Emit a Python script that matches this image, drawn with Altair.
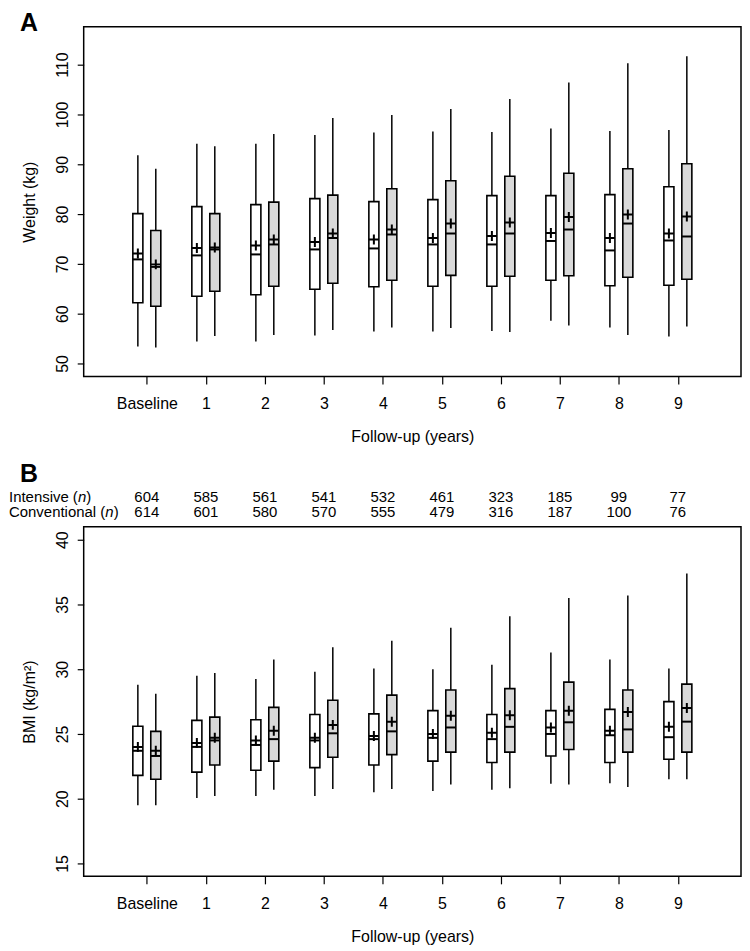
import altair as alt
import pandas as pd

# ---------------- data ----------------
years = ["Baseline", "1", "2", "3", "4", "5", "6", "7", "8", "9"]
groups = ["Intensive", "Conventional"]

int_n = [604, 585, 561, 541, 532, 461, 323, 185, 99, 77]
conv_n = [614, 601, 580, 570, 555, 479, 316, 187, 100, 76]

# Weight (kg) - left (white) boxes
w1_low = [53.4, 54.4, 54.4, 55.6, 56.4, 56.4, 56.5, 58.6, 57.2, 55.4]
w1_q1 = [62.2, 63.5, 63.8, 64.9, 65.4, 65.5, 65.5, 66.7, 65.6, 65.7]
w1_med = [70.9, 71.7, 71.9, 72.9, 73.1, 73.9, 73.9, 74.6, 72.7, 74.7]
w1_mean = [72.1, 73.2, 73.7, 74.4, 74.9, 75.2, 75.6, 76.2, 75.2, 76.1]
w1_q3 = [80.1, 81.5, 81.9, 83.1, 82.5, 82.9, 83.7, 83.7, 83.9, 85.5]
w1_high = [91.8, 94.1, 94.1, 95.9, 96.4, 96.6, 96.5, 97.2, 96.7, 96.9]
# Weight (kg) - right (dotted) boxes
w2_low = [53.2, 55.5, 55.7, 56.7, 57.2, 57.1, 56.3, 57.6, 55.7, 57.4]
w2_q1 = [61.5, 64.5, 65.5, 66.1, 66.7, 67.7, 67.5, 67.6, 67.3, 66.9]
w2_med = [69.4, 72.9, 73.9, 75.2, 75.9, 76.1, 76.1, 76.9, 78.1, 75.5]
w2_mean = [69.9, 73.3, 74.9, 76.1, 76.9, 78.1, 78.3, 79.4, 79.9, 79.5]
w2_q3 = [76.7, 80.1, 82.4, 83.8, 85.1, 86.7, 87.6, 88.2, 89.1, 90.1]
w2_high = [89.1, 93.6, 96.1, 99.3, 99.9, 101.1, 103.1, 106.4, 110.3, 111.7]

# BMI (kg/m2) - left (white) boxes
b1_low = [19.5, 20.05, 20.2, 20.2, 20.5, 20.6, 20.7, 21.15, 21.2, 21.5]
b1_q1 = [21.8, 22.05, 22.2, 22.4, 22.6, 22.9, 22.8, 23.3, 22.8, 23.05]
b1_med = [23.7, 24.0, 24.15, 24.5, 24.6, 24.7, 24.6, 25.0, 24.9, 24.75]
b1_mean = [24.0, 24.3, 24.5, 24.7, 24.85, 25.0, 25.1, 25.5, 25.25, 25.55]
b1_q3 = [25.6, 26.05, 26.1, 26.5, 26.55, 26.8, 26.5, 26.8, 26.9, 27.5]
b1_high = [28.8, 29.5, 29.25, 29.8, 30.05, 30.0, 30.35, 31.3, 30.75, 30.05]
# BMI (kg/m2) - right (dotted) boxes
b2_low = [19.5, 20.2, 20.7, 20.75, 20.75, 21.1, 20.8, 21.1, 20.9, 21.5]
b2_q1 = [21.5, 22.6, 22.9, 23.2, 23.4, 23.6, 23.6, 23.8, 23.6, 23.6]
b2_med = [23.3, 24.5, 24.6, 25.05, 25.2, 25.5, 25.55, 25.9, 25.35, 25.95]
b2_mean = [23.7, 24.7, 25.25, 25.7, 25.95, 26.4, 26.45, 26.8, 26.7, 27.0]
b2_q3 = [25.2, 26.3, 27.05, 27.6, 28.0, 28.4, 28.5, 29.0, 28.4, 28.85]
b2_high = [28.1, 29.7, 30.75, 31.7, 32.2, 33.2, 34.1, 35.5, 35.7, 37.4]

# ---------------- styling ----------------
FONT = "Liberation Sans"
OFFSETS = [-0.152, 0.152]
HW = 0.085
XDOM = [-1.07, 10.07]
W = 660
H = 351
BOX_FILLS = ["white", "#d9d9d9"]


def box_frame(s1, s2):
    rows = []
    for gi, (g, st) in enumerate(zip(groups, [s1, s2])):
        low, q1, med, mean, q3, high = st
        for i, y in enumerate(years):
            c = i + OFFSETS[gi]
            rows.append(dict(year=y, group=g, pos=c, lo=c - HW, hi=c + HW,
                             low=low[i], q1=q1[i], med=med[i], mean=mean[i],
                             q3=q3[i], high=high[i]))
    return pd.DataFrame(rows)


def xenc(field):
    return alt.X(f"{field}:Q",
                 scale=alt.Scale(domain=XDOM, nice=False, zero=False),
                 axis=alt.Axis(values=list(range(10)),
                               labelExpr="datum.value == 0 ? 'Baseline' : datum.label",
                               title="Follow-up (years)", grid=False, domain=False,
                               tickSize=7.5, tickWidth=1.2, labelPadding=12,
                               titlePadding=17, labelOverlap=False, labelFlush=False))


def yenc(field, dom, ticks, title):
    return alt.Y(f"{field}:Q",
                 scale=alt.Scale(domain=dom, nice=False, zero=False),
                 axis=alt.Axis(values=ticks, title=title, grid=False, domain=False,
                               tickSize=6.5, tickWidth=1.2, labelPadding=6.4,
                               labelAngle=270, labelAlign="center",
                               labelBaseline="bottom", titlePadding=17,
                               labelOverlap=False, labelFlush=False))


def panel(df, dom, ticks, ytitle, letter, letter_y, with_n):
    base = alt.Chart(df)
    whisk = base.mark_rule(color="black", strokeWidth=1.5).encode(
        x=xenc("pos"), y=yenc("low", dom, ticks, ytitle), y2="high:Q")
    box = base.mark_bar(stroke="black", strokeWidth=1.6).encode(
        x=xenc("lo"), x2="hi:Q",
        y=yenc("q1", dom, ticks, ytitle), y2="q3:Q",
        fill=alt.Fill("group:N", scale=alt.Scale(domain=groups, range=BOX_FILLS),
                      legend=None))
    med = base.mark_rule(color="black", strokeWidth=2).encode(
        x=xenc("lo"), x2="hi:Q", y=yenc("med", dom, ticks, ytitle))
    mean = base.mark_point(shape="M-1,0L1,0M0,-1L0,1", filled=False, size=100,
                           strokeWidth=2, color="black", opacity=1).encode(
        x=xenc("pos"), y=yenc("mean", dom, ticks, ytitle))
    lay = [whisk, box, med, mean]

    lab = alt.Chart(pd.DataFrame({"t": [letter]})).mark_text(
        font=FONT, fontSize=25, fontWeight="bold", align="left",
        baseline="alphabetic", color="black").encode(
        x=alt.value(-64), y=alt.value(letter_y), text="t:N")
    lay.append(lab)

    if with_n:
        ndf = pd.DataFrame({"pos": list(range(10)),
                            "i": [str(v) for v in int_n],
                            "c": [str(v) for v in conv_n]})
        for field, yy in [("i", -25.3), ("c", -10.3)]:
            lay.append(alt.Chart(ndf).mark_text(
                font=FONT, fontSize=15, align="center", baseline="alphabetic",
                color="black").encode(x=xenc("pos"), y=alt.value(yy),
                                      text=f"{field}:N"))
        pieces = [("Intensive (", -75, -25.3, "normal"),
                  ("n", -5.8, -25.3, "italic"),
                  (")", 2.5, -25.3, "normal"),
                  ("Conventional (", -75, -10.3, "normal"),
                  ("n", 21.7, -10.3, "italic"),
                  (")", 30.1, -10.3, "normal")]
        for t, xx, yy, st in pieces:
            lay.append(alt.Chart(pd.DataFrame({"t": [t]})).mark_text(
                font=FONT, fontSize=15, align="left", baseline="alphabetic",
                fontStyle=st, color="black").encode(
                x=alt.value(xx), y=alt.value(yy), text="t:N"))

    return alt.layer(*lay).properties(width=W, height=H)


dfA = box_frame([w1_low, w1_q1, w1_med, w1_mean, w1_q3, w1_high],
                [w2_low, w2_q1, w2_med, w2_mean, w2_q3, w2_high])
dfB = box_frame([b1_low, b1_q1, b1_med, b1_mean, b1_q3, b1_high],
                [b2_low, b2_q1, b2_med, b2_mean, b2_q3, b2_high])

pA = panel(dfA, [47.4, 117.6], [50, 60, 70, 80, 90, 100, 110], "Weight (kg)",
           "A", 4, False)
pB = panel(dfB, [14, 41], [15, 20, 25, 30, 35, 40], "BMI (kg/m²)",
           "B", -45, True)

chart = alt.vconcat(pA, pB, spacing=151, bounds="flush").properties(
    padding=0
).configure_view(
    stroke="black", strokeWidth=1.5
).configure_axis(
    labelFont=FONT, titleFont=FONT, labelFontSize=16, titleFontSize=16,
    titleFontWeight="normal", labelColor="black", titleColor="black",
    tickColor="black"
)

chart.save("out.html", embed_options={"renderer": "svg", "actions": False})
